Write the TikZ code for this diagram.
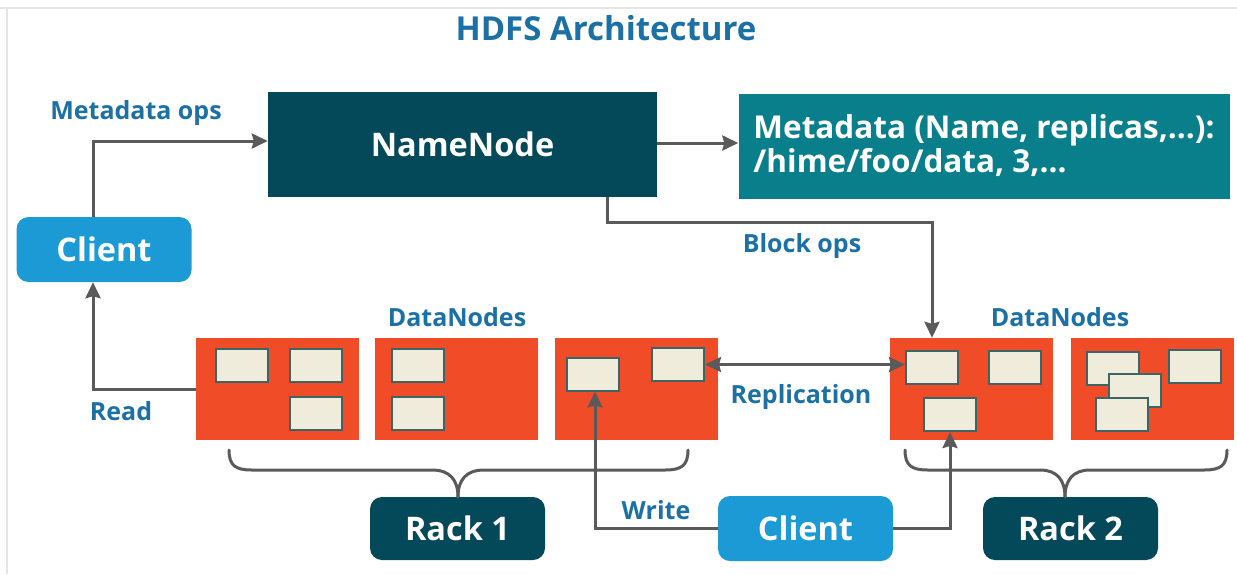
\documentclass[tikz,border=0pt]{standalone}
\usepackage{fontspec}
\setmainfont{Open Sans}
\usetikzlibrary{arrows.meta}
\definecolor{nndark}{HTML}{04495A}
\definecolor{mdteal}{HTML}{0A7F8C}
\definecolor{clblue}{HTML}{1C9AD6}
\definecolor{dnorange}{HTML}{EF4C27}
\definecolor{blkcream}{HTML}{EFECDB}
\definecolor{blkedge}{HTML}{3D6566}
\definecolor{lblblue}{HTML}{1B70A5}
\definecolor{arrgray}{HTML}{5A5A5A}
\definecolor{framegray}{HTML}{E6E6E6}
\tikzset{
  boxbase/.style={inner sep=0pt, text=white, font=\bfseries\fontsize{32.5}{34}\selectfont},
  namebox/.style={boxbase, fill=nndark, minimum width=389pt, minimum height=105pt},
  metabox/.style={boxbase, fill=mdteal, minimum width=491pt, minimum height=105pt, align=left, font=\bfseries\fontsize{31.5}{34}\selectfont},
  clientbox/.style={boxbase, fill=clblue, rounded corners=12pt, minimum width=175pt, minimum height=65pt},
  rackbox/.style={boxbase, fill=nndark, rounded corners=12pt, minimum width=175pt, minimum height=63pt},
  dnbox/.style={fill=dnorange, inner sep=0pt, minimum width=163pt, minimum height=102pt},
  blk/.style={fill=blkcream, draw=blkedge, line width=2pt, inner sep=0pt, minimum width=52pt, minimum height=33pt},
  lbl/.style={text=lblblue, font=\bfseries\fontsize{25}{28}\selectfont, inner sep=0pt},
  arr/.style={draw=arrgray, line width=3pt, -{Stealth[length=16pt,width=15pt,inset=2pt]}},
  dblarr/.style={draw=arrgray, line width=3pt, {Stealth[length=16pt,width=15pt,inset=2pt]}-{Stealth[length=16pt,width=15pt,inset=2pt]}},
  bracepath/.style={draw=arrgray, line width=3pt, line cap=round},
}
\begin{document}
\begin{tikzpicture}[x=1pt,y=-1pt]
\useasboundingbox (0,0) rectangle (1237,574);
\fill[white] (0,0) rectangle (1237,574);
% frame lines
\draw[framegray, line width=1.5pt] (0,8) -- (1237,8);
\draw[framegray, line width=1.5pt] (7,8) -- (7,574);

% title
\node[text=lblblue, font=\bfseries\fontsize{33}{36}\selectfont, inner sep=0pt] (title) at (606,28) {HDFS Architecture};

% main boxes
\node[namebox] (nn) at (462.5,144.5) {NameNode};
\node[metabox] (md) at (984,146) {Metadata (Name, replicas,...):\\/hime/foo/data, 3,...};
\node[clientbox] (cl1) at (104,249.5) {Client};
\node[clientbox] (cl2) at (805.5,528.5) {Client};
\node[rackbox] (rk1) at (457.5,528.5) {Rack 1};
\node[rackbox] (rk2) at (1070.5,528.5) {Rack 2};

% datanodes
\node[dnbox] (dn1) at (277.5,389) {};
\node[dnbox] (dn2) at (456,389) {};
\node[dnbox] (dn3) at (636.5,389) {};
\node[dnbox] (dn4) at (971.5,389) {};
\node[dnbox] (dn5) at (1152,389) {};

% blocks
\node[blk] (b11) at (242,365) {};
\node[blk] (b12) at (316,365) {};
\node[blk] (b13) at (316,413.5) {};
\node[blk] (b21) at (418,365) {};
\node[blk] (b22) at (418,413.5) {};
\node[blk] (b31) at (593,374) {};
\node[blk] (b32) at (678,364.5) {};
\node[blk] (b41) at (932,367.5) {};
\node[blk] (b42) at (1014.5,367.5) {};
\node[blk] (b43) at (950,414.5) {};
\node[blk] (b51) at (1113,368) {};
\node[blk] (b52) at (1135,390.5) {};
\node[blk] (b53) at (1122,414.5) {};
\node[blk] (b54) at (1194.5,366.5) {};

% labels
\node[lbl] (lmeta) at (136,113) {Metadata ops};
\node[lbl] (lblock) at (802,246) {Block ops};
\node[lbl] (ldn1) at (457,317) {DataNodes};
\node[lbl] (ldn2) at (1060,317) {DataNodes};
\node[lbl] (lrep) at (801,397) {Replication};
\node[lbl] (lread) at (121,411) {Read};
\node[lbl] (lwrite) at (656,510) {Write};

% connectors
\draw[arr] ([xshift=-11pt]cl1.north) |- ([yshift=3.5pt]nn.west);
\draw[arr] ([yshift=1.5pt]nn.east) -- ([yshift=3pt]md.west);
\draw[arr] ([xshift=144.5pt]nn.south) -- ++(0,25) -| ([xshift=-39.5pt]dn4.north);
\draw[arr] (dn1.west) -| ([xshift=-11pt]cl1.south);
\draw[dblarr] (b32.east) -- (b32.east -| b41.west);
\draw[arr] (cl2.west) -| ([xshift=2pt]b31.south);
\draw[arr] (cl2.east) -| (b43.south);

% braces
\draw[bracepath] (229,450) .. controls (229,466) and (236,470) .. (252,470) -- (432,470) .. controls (450,470) and (458,480) .. (458,497);
\draw[bracepath] (458,497) .. controls (458,480) and (466,470) .. (484,470) -- (665,470) .. controls (681,470) and (688,466) .. (688,450);
\draw[bracepath] (905,450) .. controls (905,466) and (912,470) .. (928,470) -- (1040,470) .. controls (1057,470) and (1065,480) .. (1065,497);
\draw[bracepath] (1065,497) .. controls (1065,480) and (1073,470) .. (1090,470) -- (1204,470) .. controls (1220,470) and (1227,466) .. (1227,450);
\end{tikzpicture}
\end{document}
